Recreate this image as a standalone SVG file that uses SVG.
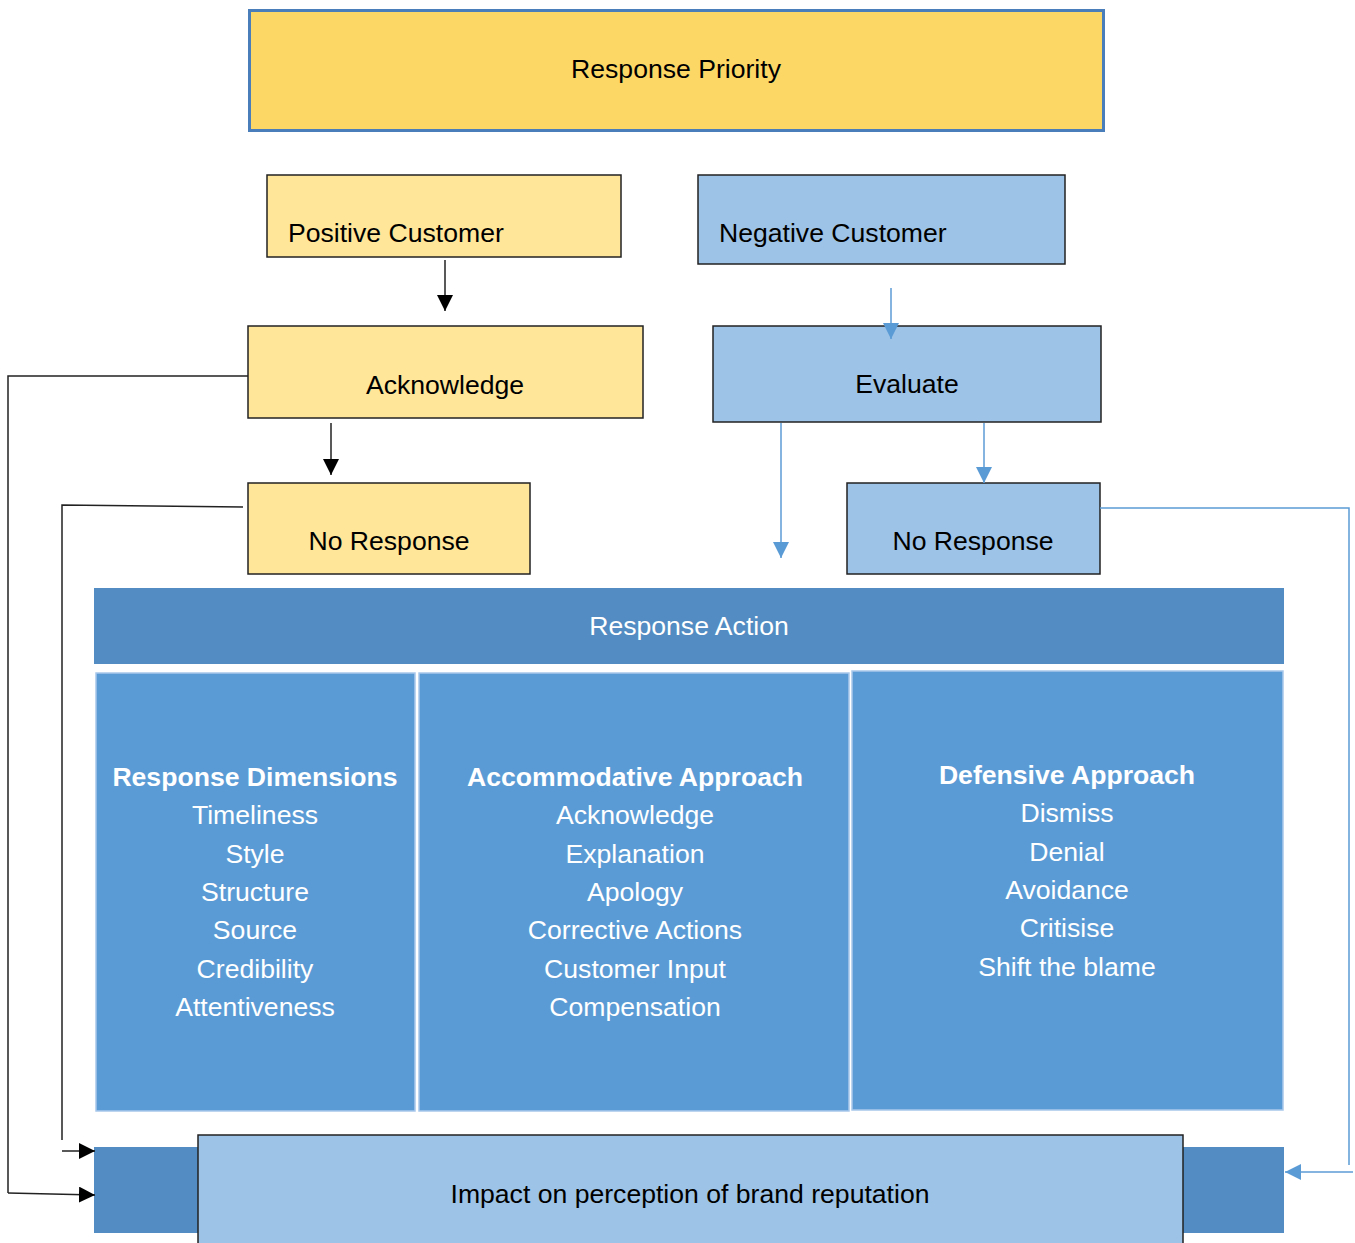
<svg xmlns="http://www.w3.org/2000/svg" width="1355" height="1243" viewBox="0 0 1355 1243">
  <defs>
    <style>
      text { font-family: "Liberation Sans", Arial, sans-serif; font-size: 26.6px; }
      .dark { fill: #000; }
      .light { fill: #fff; }
      .mid { text-anchor: middle; }
      .bold { font-weight: bold; }
      .yellow { fill: #FFE699; stroke: #222; stroke-width: 1.5; }
      .pale { fill: #9DC3E6; stroke: #222; stroke-width: 1.5; }
      .col { fill: #5B9BD5; stroke: #A8C8EA; stroke-width: 1.5; }
      .bar { fill: #528CC2; }
      .kline { fill: none; stroke: #222; stroke-width: 1.5; }
      .bline { fill: none; stroke: #5B9BD5; stroke-width: 1.5; }
    </style>
    <marker id="arrowKs" viewBox="0 0 10 10" refX="10" refY="5" markerWidth="16" markerHeight="16" markerUnits="userSpaceOnUse" orient="auto">
      <path d="M0,0 L10,5 L0,10 z" fill="#000"/>
    </marker>
    <marker id="arrowB" viewBox="0 0 10 10" refX="10" refY="5" markerWidth="16" markerHeight="16" markerUnits="userSpaceOnUse" orient="auto">
      <path d="M0,0 L10,5 L0,10 z" fill="#5B9BD5"/>
    </marker>
  </defs>

  <!-- header -->
  <g id="response-priority">
    <rect x="249.5" y="10.5" width="854" height="120" fill="#FDD766" stroke="#4A7EBB" stroke-width="3"/>
    <text class="dark mid" x="676" y="78">Response Priority</text>
  </g>

  <!-- customer branches -->
  <g id="positive-customer">
    <rect class="yellow" x="267" y="175" width="354" height="82"/>
    <text class="dark" x="288" y="242">Positive Customer</text>
  </g>
  <g id="negative-customer">
    <rect class="pale" x="698" y="175" width="367" height="89"/>
    <text class="dark" x="719" y="242">Negative Customer</text>
  </g>
  <g id="acknowledge">
    <rect class="yellow" x="248" y="326" width="395" height="92"/>
    <text class="dark mid" x="445" y="394">Acknowledge</text>
  </g>
  <g id="evaluate">
    <rect class="pale" x="713" y="326" width="388" height="96"/>
    <text class="dark mid" x="907" y="393">Evaluate</text>
  </g>
  <g id="no-response-positive">
    <rect class="yellow" x="248" y="483" width="282" height="91"/>
    <text class="dark mid" x="389" y="550">No Response</text>
  </g>
  <g id="no-response-negative">
    <rect class="pale" x="847" y="483" width="253" height="91"/>
    <text class="dark mid" x="973" y="550">No Response</text>
  </g>

  <!-- response action table -->
  <g id="response-action">
    <rect class="bar" x="94" y="588" width="1190" height="76"/>
    <text class="light mid" x="689" y="635">Response Action</text>
  </g>
  <g id="response-dimensions">
    <rect class="col" x="96" y="673" width="319" height="438"/>
    <text class="light mid" x="255" y="786"><tspan class="bold">Response Dimensions</tspan><tspan x="255" dy="38.3">Timeliness</tspan><tspan x="255" dy="38.3">Style</tspan><tspan x="255" dy="38.3">Structure</tspan><tspan x="255" dy="38.3">Source</tspan><tspan x="255" dy="38.3">Credibility</tspan><tspan x="255" dy="38.3">Attentiveness</tspan></text>
  </g>
  <g id="accommodative-approach">
    <rect class="col" x="419" y="673" width="430" height="438"/>
    <text class="light mid" x="635" y="786"><tspan class="bold">Accommodative Approach</tspan><tspan x="635" dy="38.3">Acknowledge</tspan><tspan x="635" dy="38.3">Explanation</tspan><tspan x="635" dy="38.3">Apology</tspan><tspan x="635" dy="38.3">Corrective Actions</tspan><tspan x="635" dy="38.3">Customer Input</tspan><tspan x="635" dy="38.3">Compensation</tspan></text>
  </g>
  <g id="defensive-approach">
    <rect class="col" x="852" y="671" width="431" height="439"/>
    <text class="light mid" x="1067" y="784"><tspan class="bold">Defensive Approach</tspan><tspan x="1067" dy="38.3">Dismiss</tspan><tspan x="1067" dy="38.3">Denial</tspan><tspan x="1067" dy="38.3">Avoidance</tspan><tspan x="1067" dy="38.3">Critisise</tspan><tspan x="1067" dy="38.3">Shift the blame</tspan></text>
  </g>

  <!-- outcome -->
  <g id="brand-impact">
    <rect class="bar" x="94" y="1147" width="1190" height="86"/>
    <rect class="pale" x="198" y="1135" width="985" height="120"/>
    <text class="dark mid" x="690" y="1203">Impact on perception of brand reputation</text>
  </g>

  <!-- connectors -->
  <g id="connectors">
    <path class="kline" d="M445 260 V311" marker-end="url(#arrowKs)"/>
    <path class="kline" d="M331 423 V475" marker-end="url(#arrowKs)"/>
    <path class="bline" d="M891 288 V339" marker-end="url(#arrowB)"/>
    <path class="bline" d="M781 423 V558" marker-end="url(#arrowB)"/>
    <path class="bline" d="M984 423 V483" marker-end="url(#arrowB)"/>
    <path class="kline" d="M248 376 H8 V1193"/>
    <path class="kline" d="M8 1193 L95 1195" marker-end="url(#arrowKs)"/>
    <path class="kline" d="M243 507 L62 505 V1140"/>
    <path class="kline" d="M62 1151 H95" marker-end="url(#arrowKs)"/>
    <path class="bline" d="M1100 508 H1349 V1165"/>
    <path class="bline" d="M1353 1172 H1285" marker-end="url(#arrowB)"/>
  </g>
</svg>
